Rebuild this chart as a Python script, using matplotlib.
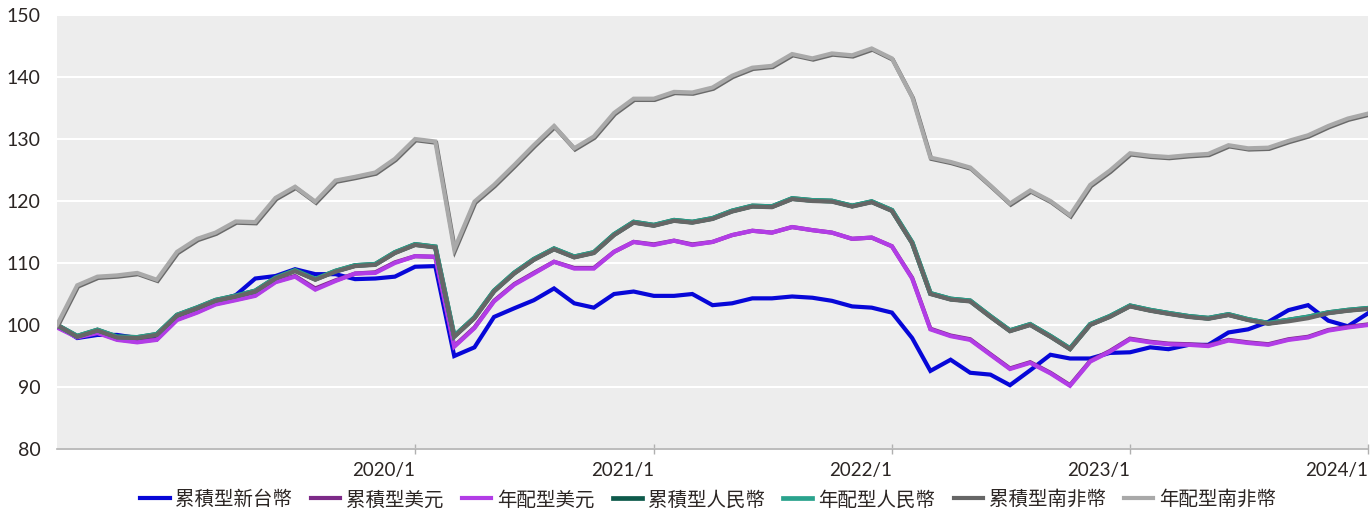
import matplotlib
matplotlib.use('Agg')
import matplotlib.pyplot as plt
import matplotlib.transforms as mtransforms
import matplotlib.patheffects as pe
import pandas as pd

plt.rcParams['font.family'] = ['Lato', 'Noto Sans CJK TC', 'DejaVu Sans']

# monthly index, 2018/7 .. 2024/1
months = pd.date_range('2018-07-01', '2024-01-01', freq='MS')

twd_acc = [100, 97.9, 98.4, 98.4, 97.9, 97.7, 101.1, 102.4, 103.8, 104.8,
           107.5, 107.9, 109.0, 108.2, 108.2, 107.4, 107.5, 107.8, 109.4, 109.5,
           95.0, 96.4, 101.3, 102.7, 104.0, 105.9, 103.5, 102.8, 105.0, 105.4,
           104.7, 104.7, 105.0, 103.2, 103.5, 104.3, 104.3, 104.6, 104.4, 103.9,
           103.0, 102.8, 102.0, 97.9, 92.6, 94.4, 92.3, 92.0, 90.3, 92.7,
           95.2, 94.6, 94.6, 95.5, 95.6, 96.4, 96.1, 96.8, 96.8, 98.8,
           99.3, 100.5, 102.4, 103.2, 100.7, 99.8, 101.9]

usd_acc = [99.7, 98.1, 98.8, 97.7, 97.3, 97.7, 100.9, 102.1, 103.4, 104.1,
           104.8, 107.0, 107.9, 105.9, 107.2, 108.3, 108.5, 110.1, 111.1, 111.0,
           96.6, 99.6, 103.9, 106.6, 108.4, 110.2, 109.2, 109.2, 111.8, 113.4,
           113.0, 113.6, 113.0, 113.4, 114.5, 115.2, 114.9, 115.8, 115.3, 114.9,
           113.9, 114.1, 112.7, 107.6, 99.4, 98.3, 97.7, 95.3, 93.0, 94.0,
           92.3, 90.3, 94.2, 95.8, 97.8, 97.3, 97.0, 96.9, 96.7, 97.6,
           97.2, 96.9, 97.7, 98.1, 99.2, 99.7, 100.1]

usd_dist = [99.6, 98.0, 98.7, 97.6, 97.2, 97.6, 100.8, 102.0, 103.3, 104.0,
            104.7, 106.9, 107.8, 105.7, 107.1, 108.3, 108.4, 110.0, 111.1, 111.0,
            96.5, 99.5, 103.8, 106.5, 108.3, 110.2, 109.1, 109.1, 111.8, 113.4,
            112.9, 113.6, 112.9, 113.4, 114.5, 115.2, 114.9, 115.8, 115.3, 114.9,
            113.9, 114.1, 112.7, 107.5, 99.3, 98.2, 97.6, 95.2, 92.9, 93.9,
            92.2, 90.2, 94.1, 95.7, 97.7, 97.2, 96.9, 96.8, 96.6, 97.5,
            97.1, 96.8, 97.6, 98.0, 99.1, 99.6, 100.0]

cny_acc = [100, 98.2, 99.2, 98.1, 98.0, 98.5, 101.6, 102.8, 104.0, 104.7,
           105.5, 107.6, 108.8, 107.4, 108.7, 109.6, 109.8, 111.7, 113.0, 112.6,
           98.2, 101.2, 105.5, 108.4, 110.6, 112.3, 111.0, 111.7, 114.6, 116.6,
           116.1, 116.9, 116.6, 117.2, 118.4, 119.2, 119.1, 120.4, 120.1, 120.0,
           119.2, 119.9, 118.5, 113.3, 105.1, 104.2, 103.9, 101.4, 99.1, 100.1,
           98.2, 96.2, 100.1, 101.4, 103.1, 102.4, 101.9, 101.4, 101.1, 101.7,
           100.9, 100.3, 100.8, 101.3, 102.0, 102.4, 102.7]

cny_dist = [100, 98.2, 99.2, 98.1, 98.0, 98.5, 101.6, 102.8, 104.0, 104.7,
            105.5, 107.6, 108.8, 107.4, 108.7, 109.6, 109.8, 111.7, 113.0, 112.6,
            98.2, 101.2, 105.5, 108.4, 110.6, 112.3, 111.0, 111.7, 114.6, 116.6,
            116.1, 116.9, 116.6, 117.2, 118.4, 119.2, 119.1, 120.4, 120.1, 120.0,
            119.2, 119.9, 118.5, 113.3, 105.1, 104.2, 103.9, 101.4, 99.1, 100.1,
            98.2, 96.2, 100.1, 101.4, 103.1, 102.4, 101.9, 101.4, 101.1, 101.7,
            100.9, 100.3, 100.8, 101.3, 102.0, 102.4, 102.7]

zar_acc = [100, 98.1, 99.1, 98.0, 97.9, 98.4, 101.5, 102.7, 103.9, 104.6,
           105.4, 107.5, 108.7, 107.3, 108.6, 109.5, 109.7, 111.6, 112.9, 112.5,
           98.1, 101.1, 105.4, 108.3, 110.5, 112.2, 110.9, 111.6, 114.5, 116.5,
           116.0, 116.8, 116.5, 117.1, 118.3, 119.1, 119.0, 120.3, 120.0, 119.9,
           119.1, 119.8, 118.4, 113.2, 105.0, 104.1, 103.8, 101.3, 99.0, 100.0,
           98.1, 96.1, 100.0, 101.3, 103.0, 102.3, 101.8, 101.3, 101.0, 101.6,
           100.8, 100.2, 100.6, 101.1, 101.9, 102.3, 102.6]

zar_dist = [100, 106.4, 107.8, 108.0, 108.4, 107.3, 111.8, 113.9, 114.9, 116.7,
            116.6, 120.5, 122.3, 119.9, 123.3, 123.9, 124.6, 126.8, 130.0, 129.6,
            112.2, 119.9, 122.6, 125.8, 129.0, 132.1, 128.5, 130.4, 134.2, 136.5,
            136.5, 137.6, 137.5, 138.3, 140.2, 141.5, 141.8, 143.7, 143.0, 143.8,
            143.5, 144.6, 143.0, 136.8, 127.0, 126.3, 125.4, 122.5, 119.6, 121.7,
            120.0, 117.7, 122.6, 124.9, 127.7, 127.3, 127.1, 127.4, 127.6, 129.0,
            128.5, 128.6, 129.7, 130.6, 132.1, 133.3, 134.1]

series = [twd_acc, usd_acc, usd_dist, cny_acc, cny_dist, zar_acc, zar_dist]
names = ['累積型新台幣', '累積型美元', '年配型美元', '累積型人民幣', '年配型人民幣',
         '累積型南非幣', '年配型南非幣']
colors = ['#0707d8', '#7d2a88', '#b23de6', '#0e5a4b', '#2aa38d', '#666666', '#a9a9a9']
widths = [3.0, 3.0, 3.0, 3.4, 3.4, 3.0, 3.0]

year_ticks = pd.to_datetime(['2020-01-01', '2021-01-01', '2022-01-01', '2023-01-01', '2024-01-01'])
year_labels = ['2020/1', '2021/1', '2022/1', '2023/1', '2024/1']
y_ticks = [80, 90, 100, 110, 120, 130, 140, 150]

fig = plt.figure(figsize=(13.7, 5.08), dpi=100)
ax = fig.add_axes([0.0416, 0.1161, 0.957, 0.8544])
ax.set_facecolor('#ededed')

for vals, name, col, lw in zip(series, names, colors, widths):
    line, = ax.plot(months, vals, color=col, lw=lw, label=name, solid_joinstyle='miter')
    if name == '年配型南非幣':
        line.set_path_effects([pe.SimpleLineShadow(offset=(0.6, -0.9), shadow_color='#6a6a6a', alpha=1),
                               pe.Normal()])

ax.set_xlim(months[0], months[-1])
ax.set_ylim(80, 150)
ax.set_yticks(y_ticks)
ax.yaxis.grid(True, color='white', lw=1.5)
ax.set_axisbelow(True)

ax.set_xticks(year_ticks)
ax.set_xticklabels(year_labels)
offset = mtransforms.ScaledTranslation(6 / 100, 0, fig.dpi_scale_trans)
for lab in ax.get_xticklabels():
    lab.set_horizontalalignment('right')
    lab.set_transform(lab.get_transform() + offset)

for s in ['top', 'right', 'left']:
    ax.spines[s].set_visible(False)
ax.spines['bottom'].set_color('#b0b0b0')
ax.spines['bottom'].set_linewidth(1.2)
ax.tick_params(axis='x', direction='inout', length=7, width=1, color='#b0b0b0',
               labelsize=13.5, labelcolor='#2b2523', pad=6)
ax.tick_params(axis='y', length=0, labelsize=14, labelcolor='#2b2523', pad=12)

leg = fig.legend(loc='lower center', bbox_to_anchor=(0.517, -0.035), ncol=7, frameon=False,
                 fontsize=14, handlelength=1.5, columnspacing=0.95, handletextpad=0.3,
                 labelcolor='#2b2523')
for h in leg.get_lines():
    h.set_path_effects([])

fig.savefig('out.png', dpi=100)
